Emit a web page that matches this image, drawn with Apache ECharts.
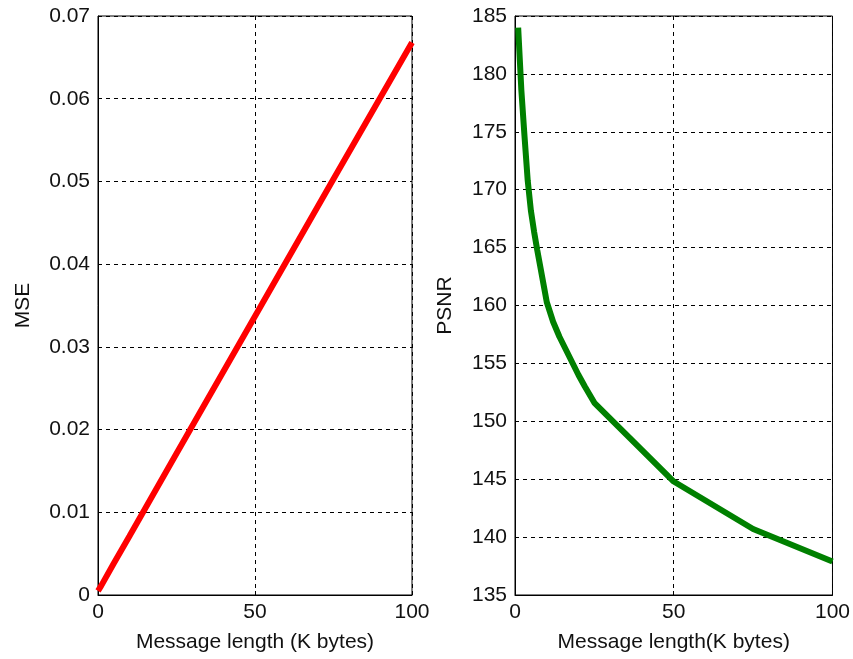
<!DOCTYPE html>
<html>
<head>
<meta charset="utf-8">
<script src="https://cdn.jsdelivr.net/npm/echarts@6/dist/echarts.min.js"></script>
<style>
    html, body {margin: 0; padding: 0; background: #fff;}
    #chart {width: 853px; height: 659px;}
</style>
</head>
<body>
<div id="chart"></div>
<script>
// message length (K bytes) and MSE, left panel
var mseLength = [0, 1, 5, 10, 25, 50, 75, 100];
var mseValue = [0.0005, 0.0011, 0.0038, 0.0071, 0.0171, 0.0337, 0.0503, 0.0668];

// message length and PSNR, right panel
var psnrLength = [1, 2, 3, 4, 5, 6, 7, 8, 9, 10, 12, 14, 16, 18, 20, 22, 25, 50, 75, 100];
var psnrValue = [184, 178.6, 174.6, 170.8, 168.2, 166.4, 164.8, 163.3, 161.8, 160.3, 158.6, 157.3, 156.2, 155.1, 154, 153, 151.6, 144.8, 140.7, 137.9];

var mseTicks = [0, 0.07, 0.01];
var psnrTicks = [135, 185, 5];
var lengthTicks = [0, 100, 50];

function pairs(xs, ys) {
    var data = [];
    for (var i = 0; i < xs.length; i++) {
        data.push([xs[i], ys[i]]);
    }
    return data;
}

var textFont = {
    fontFamily: 'Liberation Sans, Arial, sans-serif',
    fontSize: 21,
    color: '#111'
};

function xAxisFor(gridIndex, name) {
    return {
        type: 'value',
        gridIndex: gridIndex,
        min: lengthTicks[0],
        max: lengthTicks[1],
        interval: lengthTicks[2],
        name: name,
        nameLocation: 'middle',
        nameGap: 37,
        nameTextStyle: textFont,
        axisLine: {show: true, lineStyle: {color: '#000', width: 1}},
        axisTick: {show: true, inside: true, length: 4, lineStyle: {color: '#000'}},
        axisLabel: {margin: 7, fontFamily: textFont.fontFamily, fontSize: textFont.fontSize, color: textFont.color},
        splitLine: {show: true, lineStyle: {color: '#000', type: [4, 4], width: 1}}
    };
}

function yAxisFor(gridIndex, name, ticks, gap) {
    return {
        type: 'value',
        gridIndex: gridIndex,
        min: ticks[0],
        max: ticks[1],
        interval: ticks[2],
        name: name,
        nameLocation: 'middle',
        nameGap: gap,
        nameTextStyle: textFont,
        axisLine: {show: true, lineStyle: {color: '#000', width: 1}},
        axisTick: {show: true, inside: true, length: 4, lineStyle: {color: '#000'}},
        axisLabel: {
            margin: 8,
            fontFamily: textFont.fontFamily,
            fontSize: textFont.fontSize,
            color: textFont.color,
            formatter: function (v) {
                return parseFloat(v.toFixed(2)).toString();
            }
        },
        splitLine: {show: true, lineStyle: {color: '#000', type: [4, 4], width: 1}}
    };
}

var myChart = echarts.init(document.getElementById('chart'));

var option = {
    backgroundColor: '#fff',
    animation: false,
    grid: [
        {left: 98, right: 441, top: 16, bottom: 64, show: true, borderColor: '#000', borderWidth: 1, backgroundColor: '#fff'},
        {left: 515, right: 20, top: 16, bottom: 64, show: true, borderColor: '#000', borderWidth: 1, backgroundColor: '#fff'}
    ],
    xAxis: [
        xAxisFor(0, 'Message length (K bytes)'),
        xAxisFor(1, 'Message length(K bytes)')
    ],
    yAxis: [
        yAxisFor(0, 'MSE', mseTicks, 64),
        yAxisFor(1, 'PSNR', psnrTicks, 59)
    ],
    series: [
        {
            name: 'MSE',
            type: 'line',
            xAxisIndex: 0,
            yAxisIndex: 0,
            showSymbol: false,
            lineStyle: {color: '#ff0000', width: 6},
            data: pairs(mseLength, mseValue)
        },
        {
            name: 'PSNR',
            type: 'line',
            xAxisIndex: 1,
            yAxisIndex: 1,
            showSymbol: false,
            lineStyle: {color: '#008000', width: 6},
            data: pairs(psnrLength, psnrValue)
        }
    ]
};

myChart.setOption(option);
</script>
</body>
</html>
